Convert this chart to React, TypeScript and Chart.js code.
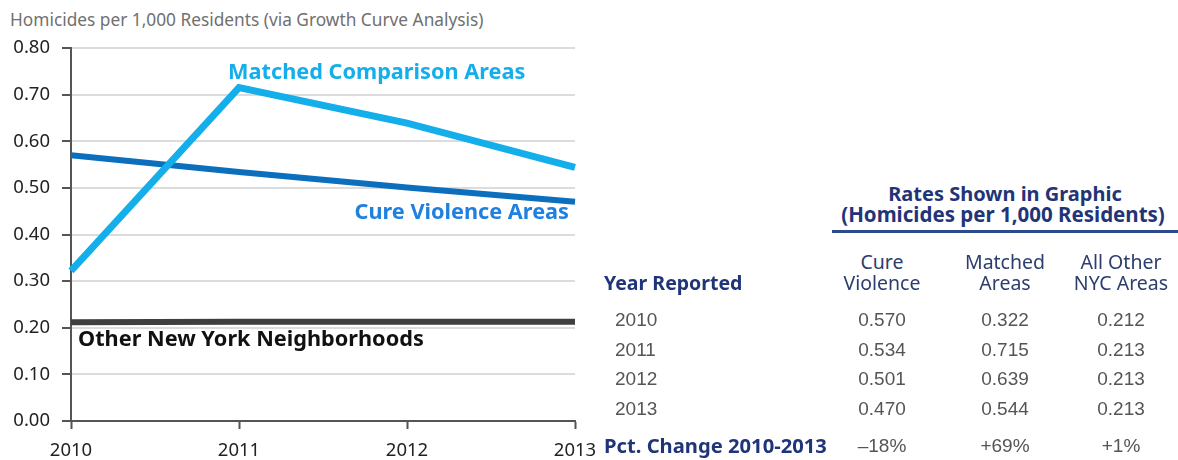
import React, { useEffect, useRef } from "react";
import { Chart, registerables } from "chart.js";

Chart.register(...registerables);

const years = ["2010", "2011", "2012", "2013"];
const matchedAreas = [0.322, 0.715, 0.639, 0.544];
const cureViolence = [0.57, 0.534, 0.501, 0.47];
const otherNYC = [0.212, 0.213, 0.213, 0.213];
const pctChange = ["\u201318%", "+69%", "+1%"];
const seriesNames = ["Matched Comparison Areas", "Cure Violence Areas", "Other New York Neighborhoods"];
const columnHeaders = [["Cure", "Violence"], ["Matched", "Areas"], ["All Other", "NYC Areas"]];
const subtitle = "Homicides per 1,000 Residents (via Growth Curve Analysis)";

const MATCHED = "#14aeea";
const CURE = "#0b6fbe";
const CURE_LABEL = "#1f80e0";
const OTHER = "#3f3f3f";
const NAVY = "#1f3577";
const GREY_NUM = "#555555";
const SANS = "'Noto Sans', 'Open Sans', sans-serif";
const ARIAL = "'Liberation Sans', Arial, sans-serif";

const labelPlugin = {
  id: "seriesLabels",
  afterDatasetsDraw(chart: any) {
    const { ctx, scales } = chart;
    const x = scales.x;
    const y = scales.y;
    const items = [
      { text: seriesNames[0], xv: 0.935, yv: 0.747, color: MATCHED, align: "left" },
      { text: seriesNames[1], xv: 2.964, yv: 0.446, color: CURE_LABEL, align: "right" },
      { text: seriesNames[2], xv: 0.042, yv: 0.174, color: "#111111", align: "left" },
    ];
    ctx.save();
    ctx.font = `bold 21.7px ${SANS}`;
    ctx.textBaseline = "middle";
    for (const it of items) {
      ctx.fillStyle = it.color;
      ctx.textAlign = it.align;
      ctx.fillText(it.text, x.getPixelForValue(it.xv), y.getPixelForValue(it.yv));
    }
    ctx.restore();
  },
};

function Text(props: { cx?: number; left?: number; cy: number; text: string; font: string; color: string; bold?: boolean; size: number }) {
  const lh = Math.round(props.size + 6);
  const style: any = {
    position: "absolute",
    top: props.cy - lh / 2,
    lineHeight: lh + "px",
    height: lh,
    fontFamily: props.font,
    fontSize: props.size,
    fontWeight: props.bold ? 700 : 400,
    color: props.color,
    whiteSpace: "nowrap",
  };
  if (props.cx !== undefined) {
    style.left = props.cx - 170;
    style.width = 340;
    style.textAlign = "center";
  } else {
    style.left = props.left;
  }
  return <div style={style}>{props.text}</div>;
}

export default function App() {
  const ref = useRef<HTMLCanvasElement>(null);

  useEffect(() => {
    if (!ref.current) return;
    const chart = new Chart(ref.current, {
      type: "line",
      data: {
        labels: years,
        datasets: [
          { label: seriesNames[0], data: matchedAreas, borderColor: MATCHED, borderWidth: 7, pointRadius: 0, tension: 0 },
          { label: seriesNames[1], data: cureViolence, borderColor: CURE, borderWidth: 6, pointRadius: 0, tension: 0 },
          { label: seriesNames[2], data: otherNYC, borderColor: OTHER, borderWidth: 6, pointRadius: 0, tension: 0 },
        ],
      },
      options: {
        responsive: false,
        animation: false,
        layout: { padding: { top: 48, right: 45, bottom: 0, left: 0 } },
        plugins: { legend: { display: false }, tooltip: { enabled: false }, title: { display: false } },
        scales: {
          x: {
            offset: false,
            grid: { drawOnChartArea: false, drawTicks: true, tickLength: 8, tickColor: "#555555", tickWidth: 2 },
            border: { color: "#555555", width: 2 },
            ticks: { color: "#222222", font: { family: SANS, size: 18.5 }, padding: 11, maxRotation: 0 },
            afterFit: (s: any) => { s.height = 39; },
          },
          y: {
            min: 0,
            max: 0.8,
            ticks: { stepSize: 0.1, color: "#222222", font: { family: SANS, size: 18.5 }, padding: 12, callback: (v: any) => Number(v).toFixed(2) },
            grid: { color: "#dcdcdc", lineWidth: 2, tickColor: "#555555", tickLength: 9, tickWidth: 2 },
            border: { color: "#555555", width: 2 },
            afterFit: (s: any) => { s.width = 71; },
          },
        },
      },
      plugins: [labelPlugin],
    });
    return () => chart.destroy();
  }, []);

  const rowYs = [319, 349, 378, 408];
  const colX = [882, 1005, 1121];
  const series = [cureViolence, matchedAreas, otherNYC];

  return (
    <div style={{ position: "fixed", left: 0, top: 0, width: 1178, height: 460, background: "#ffffff", overflow: "hidden" }}>
      <div style={{ position: "absolute", left: 10, top: 9, lineHeight: "22px", fontFamily: SANS, fontSize: 17.3, color: "#707070", whiteSpace: "nowrap" }}>
        {subtitle}
      </div>
      <canvas ref={ref} width={620} height={460} style={{ position: "absolute", left: 0, top: 0, width: 620, height: 460 }} />
      <Text cx={1005} cy={194} text="Rates Shown in Graphic" font={SANS} size={20} bold color={NAVY} />
      <Text cx={1003} cy={214} text="(Homicides per 1,000 Residents)" font={SANS} size={20.5} bold color={NAVY} />
      <div style={{ position: "absolute", left: 832, top: 230, width: 346, height: 3, background: "#2c4a8c" }} />
      {columnHeaders.map((h, i) => (
        <React.Fragment key={i}>
          <Text cx={colX[i]} cy={262} text={h[0]} font={SANS} size={19.5} color="#2c3d6e" />
          <Text cx={colX[i]} cy={283} text={h[1]} font={SANS} size={19.5} color="#2c3d6e" />
        </React.Fragment>
      ))}
      <Text left={604} cy={283} text="Year Reported" font={SANS} size={19.5} bold color={NAVY} />
      {years.map((yr, r) => (
        <React.Fragment key={yr}>
          <Text left={615} cy={rowYs[r]} text={yr} font={ARIAL} size={19} color={GREY_NUM} />
          {series.map((s, c) => (
            <Text key={c} cx={colX[c]} cy={rowYs[r]} text={s[r].toFixed(3)} font={ARIAL} size={19} color={GREY_NUM} />
          ))}
        </React.Fragment>
      ))}
      <Text left={604} cy={445} text="Pct. Change 2010-2013" font={SANS} size={20.2} bold color={NAVY} />
      {pctChange.map((p, c) => (
        <Text key={c} cx={colX[c]} cy={445} text={p} font={ARIAL} size={19} color={GREY_NUM} />
      ))}
    </div>
  );
}
